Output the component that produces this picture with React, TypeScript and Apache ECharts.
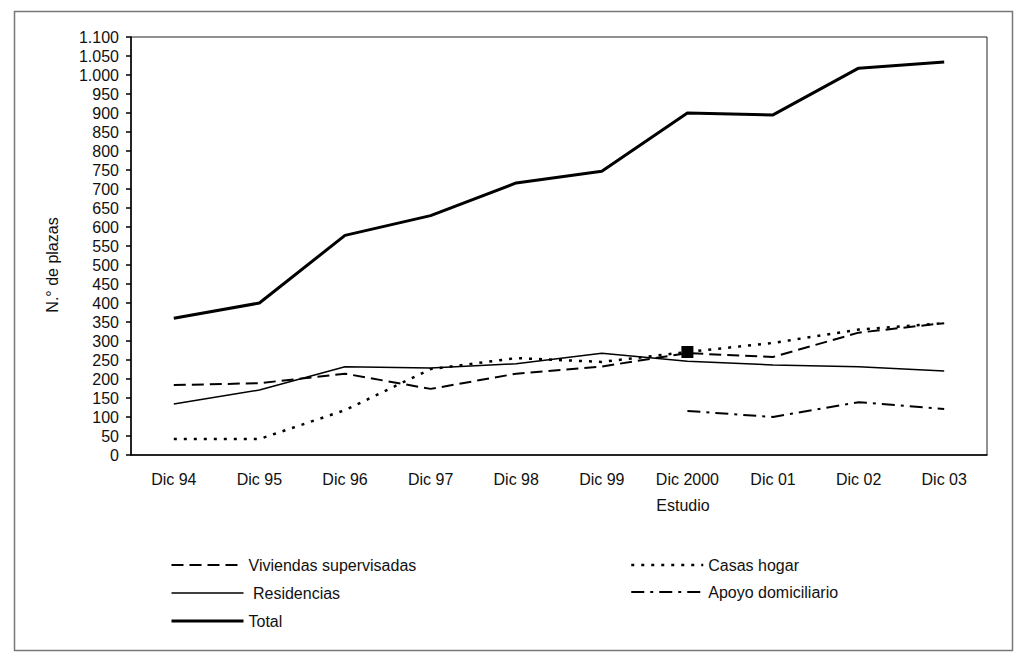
import React, { useEffect, useRef } from "react";
import * as echarts from "echarts";

const categories = ["Dic 94", "Dic 95", "Dic 96", "Dic 97", "Dic 98", "Dic 99", "Dic 2000", "Dic 01", "Dic 02", "Dic 03"];
const viviendas = [184, 189, 214, 174, 214, 233, 268, 258, 322, 347];
const residencias = [134, 171, 232, 229, 240, 268, 247, 237, 232, 221];
const casasHogar = [42, 42, 118, 226, 255, 245, 271, 295, 330, 347];
const apoyo = [null, null, null, null, null, null, 116, 100, 139, 121];
const total = [360, 400, 578, 630, 716, 747, 900, 895, 1018, 1034];
const markerCategory = "Dic 2000";
const markerValue = 271;

const FONT = "'Liberation Sans', Arial, Helvetica, sans-serif";

function fmt(v: number): string {
  if (v >= 1000) {
    return Math.floor(v / 1000) + "." + String(v % 1000).padStart(3, "0");
  }
  return String(v);
}

export default function App() {
  const ref = useRef<HTMLDivElement>(null);
  useEffect(() => {
    if (!ref.current) return;
    const chart = echarts.init(ref.current, undefined, { renderer: "svg" });
    const legendText = { fontFamily: FONT, fontSize: 16, color: "#111", lineHeight: 18 };
    const legendCommon = {
      orient: "vertical",
      top: 551,
      itemWidth: 72,
      itemHeight: 14,
      textStyle: legendText,
      selectedMode: false,
      itemStyle: { opacity: 0 },
      lineStyle: { width: "inherit" },
    };
    chart.setOption({
      animation: false,
      backgroundColor: "#fff",
      textStyle: { fontFamily: FONT },
      grid: {
        left: 131,
        top: 37,
        right: 37,
        bottom: 203,
        show: true,
        borderColor: "#222",
        borderWidth: 1,
      },
      graphic: [
        {
          type: "rect",
          shape: { x: 14.5, y: 11.5, width: 998, height: 639 },
          style: { fill: "none", stroke: "#777", lineWidth: 1.5 },
          silent: true,
        },
        {
          type: "text",
          x: 52,
          y: 265,
          rotation: Math.PI / 2,
          style: {
            text: "N.° de plazas",
            fontFamily: FONT,
            fontSize: 16,
            fill: "#111",
            align: "center",
            verticalAlign: "middle",
          },
        },
        {
          type: "text",
          x: 683,
          y: 505,
          style: {
            text: "Estudio",
            fontFamily: FONT,
            fontSize: 16,
            fill: "#111",
            align: "center",
            verticalAlign: "middle",
          },
        },
      ],
      legend: [
        {
          ...legendCommon,
          left: 165,
          itemGap: 10,
          data: ["Viviendas supervisadas", "Residencias", "Total"],
          formatter: (n: string) => (n === "Residencias" ? "\u00a0" + n : n),
        },
        {
          ...legendCommon,
          left: 625,
          itemGap: 9,
          data: ["Casas hogar", "Apoyo domiciliario"],
        },
      ],
      xAxis: {
        type: "category",
        data: categories,
        boundaryGap: true,
        axisLine: { lineStyle: { color: "#000", width: 1.5 } },
        axisTick: { show: false },
        axisLabel: { color: "#111", fontFamily: FONT, fontSize: 16, margin: 16, interval: 0 },
        splitLine: { show: false },
      },
      yAxis: {
        type: "value",
        min: 0,
        max: 1100,
        interval: 50,
        axisLine: { show: true, lineStyle: { color: "#000", width: 1.5 } },
        axisTick: { show: true, length: 5, lineStyle: { color: "#000", width: 1.5 } },
        axisLabel: { color: "#111", fontFamily: FONT, fontSize: 16, margin: 12, formatter: fmt },
        splitLine: { show: false },
      },
      series: [
        {
          name: "Viviendas supervisadas",
          type: "line",
          data: viviendas,
          symbol: "none",
          lineStyle: { color: "#000", width: 2, type: [12, 6] },
          itemStyle: { color: "#000" },
        },
        {
          name: "Casas hogar",
          type: "line",
          data: casasHogar,
          symbol: "none",
          lineStyle: { color: "#000", width: 2.5, type: [3, 7] },
          itemStyle: { color: "#000" },
          markPoint: {
            symbol: "rect",
            symbolSize: 12,
            label: { show: false },
            itemStyle: { color: "#000" },
            data: [{ coord: [markerCategory, markerValue] }],
          },
        },
        {
          name: "Residencias",
          type: "line",
          data: residencias,
          symbol: "none",
          lineStyle: { color: "#000", width: 1.5 },
          itemStyle: { color: "#000" },
        },
        {
          name: "Apoyo domiciliario",
          type: "line",
          data: apoyo,
          symbol: "none",
          connectNulls: false,
          lineStyle: { color: "#000", width: 2, type: [13, 6, 3, 6] },
          itemStyle: { color: "#000" },
        },
        {
          name: "Total",
          type: "line",
          data: total,
          symbol: "none",
          lineStyle: { color: "#000", width: 3 },
          itemStyle: { color: "#000" },
        },
      ],
    });
    return () => chart.dispose();
  }, []);
  return (
    <div
      ref={ref}
      style={{ position: "fixed", left: 0, top: 0, width: 1024, height: 658, background: "#fff" }}
    />
  );
}
